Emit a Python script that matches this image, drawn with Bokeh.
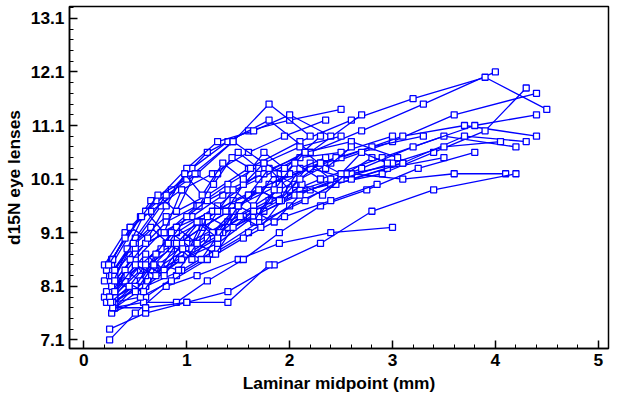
from bokeh.plotting import figure
from bokeh.models import FixedTicker, Range1d
from bokeh.embed import file_html
from bokeh.resources import INLINE

series_x = [
    [0.25, 0.55, 0.9, 1.3, 1.7, 2.2, 2.7, 3.3, 4.0],
    [0.3, 0.6, 1.0, 1.4, 1.9, 2.4, 3.0, 3.6, 4.4],
    [0.2, 0.5, 0.8, 1.2, 1.6, 2.1, 2.6, 3.2, 3.9, 4.5],
    [0.28, 0.6, 1.0, 1.4, 1.9, 2.5, 3.1, 3.7, 4.4],
    [0.25, 0.5, 0.8, 1.1, 1.5, 1.9, 2.4, 3.0],
    [0.3, 0.65, 1.0, 1.4, 1.8, 2.3, 2.9, 3.5, 4.2],
    [0.27, 0.55, 0.85, 1.2, 1.6, 2.0, 2.5],
    [0.2, 0.45, 0.75, 1.05, 1.4, 1.8, 2.2, 2.7],
    [0.3, 0.6, 0.95, 1.3, 1.7, 2.1, 2.6, 3.1, 3.6, 4.1],
    [0.25, 0.5, 0.8, 1.1, 1.45, 1.8, 2.2],
    [0.28, 0.55, 0.85, 1.15, 1.5, 1.9, 2.3, 2.8, 3.3],
    [0.3, 0.6, 0.9, 1.2, 1.55, 1.95, 2.4, 2.9, 3.4, 3.9, 4.3],
    [0.22, 0.45, 0.7, 1.0, 1.3, 1.65, 2.0, 2.4],
    [0.27, 0.6, 0.9, 1.25, 1.6, 2.0, 2.45, 2.95, 3.5],
    [0.3, 0.65, 1.0, 1.35, 1.75, 2.2, 2.7, 3.2, 3.8, 4.4],
    [0.25, 0.5, 0.75, 1.05, 1.35, 1.7, 2.1, 2.5, 3.0],
    [0.2, 0.4, 0.65, 0.95, 1.25, 1.6, 1.95, 2.35],
    [0.28, 0.58, 0.9, 1.2, 1.55, 1.9, 2.3, 2.75, 3.25, 3.8],
    [0.3, 0.55, 0.85, 1.15, 1.45, 1.8, 2.2, 2.6, 3.1],
    [0.25, 0.6, 0.95, 1.3, 1.7, 2.15, 2.6, 3.1, 3.7, 4.3],
    [0.27, 0.5, 0.8, 1.1, 1.4, 1.75, 2.1, 2.5],
    [0.3, 0.62, 0.95, 1.3, 1.65, 2.05, 2.5, 3.0, 3.5, 4.05],
    [0.22, 0.5, 0.8, 1.1, 1.4, 1.75, 2.15, 2.6, 3.05],
    [0.28, 0.55, 0.85, 1.2, 1.55, 1.95, 2.4, 2.85],
    [0.3, 0.6, 0.9, 1.25, 1.6, 2.0, 2.45],
    [0.25, 0.6, 1.0, 1.4, 1.85, 2.3, 2.8, 3.4, 4.2],
    [0.27, 0.65, 1.0, 1.45, 1.9, 2.3],
    [0.28, 0.6, 1.0, 1.4, 1.8],
    [0.3, 0.45, 0.6, 0.8, 1.0, 1.15, 1.3, 1.5, 1.7, 1.9],
    [0.25, 0.4, 0.55, 0.75, 0.9, 1.1, 1.3, 1.45, 1.65, 1.85, 2.05],
    [0.3, 0.5, 0.7, 0.85, 1.05, 1.2, 1.4, 1.6, 1.8, 2.0, 2.2, 2.4],
    [0.27, 0.42, 0.6, 0.78, 0.95, 1.12, 1.3, 1.5, 1.7],
    [0.22, 0.4, 0.58, 0.75, 0.92, 1.1, 1.28, 1.45, 1.65, 1.85, 2.1],
    [0.3, 0.48, 0.65, 0.82, 1.0, 1.2, 1.38, 1.55, 1.75, 1.95, 2.15, 2.35, 2.6],
    [0.28, 0.45, 0.62, 0.8, 0.98, 1.15, 1.35, 1.55, 1.75, 1.95],
    [0.25, 0.42, 0.6, 0.78, 0.95, 1.12, 1.3, 1.5, 1.7, 1.9, 2.1, 2.35],
    [0.3, 0.5, 0.68, 0.88, 1.05, 1.25, 1.45, 1.65, 1.85, 2.05, 2.3],
    [0.26, 0.44, 0.6, 0.78, 0.96, 1.14, 1.32, 1.52, 1.72, 1.92, 2.12, 2.32, 2.55, 2.8],
    [0.3, 0.5, 0.7, 0.9, 1.1, 1.3, 1.5, 1.7, 1.9, 2.1, 2.3, 2.5, 2.7, 2.95],
    [0.24, 0.4, 0.56, 0.72, 0.9, 1.08, 1.26, 1.44, 1.62],
]
series_y = [
    [7.8, 8.5, 9.1, 9.6, 10.2, 10.6, 11.0, 11.5, 12.1],
    [7.7, 8.3, 8.8, 9.3, 9.9, 10.4, 10.8, 11.3, 11.7],
    [8.2, 8.9, 9.4, 9.8, 10.3, 10.8, 11.2, 11.6, 12.0, 11.4],
    [8.0, 8.6, 9.0, 9.5, 10.1, 10.5, 10.9, 11.1, 10.9],
    [7.1, 7.6, 8.1, 8.3, 8.6, 8.9, 9.1, 9.2],
    [7.8, 8.4, 8.9, 9.3, 9.7, 10.1, 10.5, 10.9, 10.7],
    [8.5, 9.4, 9.9, 10.6, 11.0, 11.2, 11.4],
    [7.9, 8.8, 9.6, 10.3, 10.8, 11.2, 10.6, 11.3],
    [7.7, 8.1, 8.6, 9.0, 9.5, 9.9, 10.2, 10.1, 10.2, 10.2],
    [8.3, 9.0, 9.8, 10.2, 10.8, 11.5, 10.9],
    [7.9, 8.4, 8.8, 9.2, 9.6, 10.0, 10.4, 10.7, 10.9],
    [7.8, 8.2, 8.6, 9.0, 9.4, 9.8, 10.0, 10.2, 10.6, 11.0, 11.8],
    [8.4, 9.2, 9.7, 10.3, 10.8, 11.0, 11.3, 10.9],
    [7.6, 7.9, 8.3, 8.7, 9.1, 9.6, 10.0, 10.3, 10.5],
    [7.9, 8.3, 8.7, 9.1, 9.5, 9.9, 10.3, 10.7, 11.1, 11.3],
    [8.0, 8.6, 9.1, 9.4, 9.8, 10.1, 10.5, 10.6, 10.9],
    [8.5, 9.1, 9.5, 9.9, 10.2, 10.6, 10.9, 11.2],
    [7.7, 7.8, 7.8, 8.2, 8.6, 9.1, 9.6, 9.9, 10.3, 10.6],
    [8.1, 8.5, 9.0, 9.3, 9.7, 10.0, 10.3, 10.1, 10.4],
    [7.8, 8.1, 8.4, 8.8, 9.3, 9.7, 10.2, 10.4, 10.9, 10.8],
    [8.3, 8.8, 9.1, 9.6, 10.0, 10.4, 10.7, 10.9],
    [7.9, 8.2, 8.6, 8.9, 9.4, 9.8, 10.1, 10.4, 10.7, 10.8],
    [8.0, 8.7, 9.3, 9.6, 9.9, 10.2, 10.6, 10.8, 10.5],
    [7.8, 7.9, 8.2, 8.6, 9.0, 9.4, 9.7, 10.0],
    [8.2, 8.9, 9.2, 9.5, 9.8, 10.2, 10.5],
    [7.3, 7.6, 7.8, 8.0, 8.5, 8.9, 9.5, 9.9, 10.2],
    [8.6, 9.7, 10.1, 10.8, 10.2, 10.9],
    [7.7, 7.7, 7.8, 7.8, 8.5],
    [8.0, 8.6, 8.3, 8.9, 8.7, 9.3, 9.0, 9.6, 9.4, 10.0],
    [7.9, 8.4, 8.2, 8.8, 9.2, 8.9, 9.5, 9.9, 9.6, 10.2, 10.0],
    [8.3, 8.1, 8.7, 9.1, 8.8, 9.4, 9.2, 9.8, 10.3, 9.9, 10.4, 10.1],
    [8.1, 8.8, 9.5, 9.1, 9.9, 9.6, 10.2, 10.6, 10.3],
    [7.8, 8.2, 8.0, 8.5, 8.4, 8.9, 8.7, 9.2, 9.5, 9.3, 9.8],
    [8.4, 8.9, 9.2, 8.9, 9.4, 9.7, 9.5, 10.0, 10.4, 10.2, 10.6, 10.3, 10.7],
    [8.6, 9.2, 9.0, 9.6, 10.2, 9.8, 10.4, 10.1, 10.6, 10.3],
    [7.9, 8.3, 8.7, 8.4, 8.9, 9.3, 9.1, 9.6, 9.9, 9.7, 10.3, 10.5],
    [8.2, 8.0, 8.5, 8.9, 8.6, 9.1, 9.5, 9.3, 9.9, 10.4, 10.1],
    [7.8, 8.1, 8.5, 8.3, 8.8, 8.6, 9.1, 9.4, 9.2, 9.7, 10.0, 9.8, 10.2, 10.5],
    [8.0, 8.5, 8.3, 8.9, 9.3, 9.0, 9.6, 9.9, 9.7, 10.1, 10.4, 10.2, 10.6, 10.4],
    [8.5, 9.0, 9.4, 9.8, 9.5, 10.2, 10.0, 10.5, 10.3],
]
x_ticks = [0, 1, 2, 3, 4, 5]
y_ticks = [7.1, 8.1, 9.1, 10.1, 11.1, 12.1, 13.1]

p = figure(width=612, height=395, output_backend="svg", toolbar_location=None,
           x_range=Range1d(-0.14, 5.1), y_range=Range1d(6.94, 13.32),
           min_border_left=63, min_border_right=4, min_border_top=6, min_border_bottom=42)
for xs, ys in zip(series_x, series_y):
    p.line(xs, ys, color="#0000ff", line_width=1.3)
    p.scatter(xs, ys, marker="square", size=6, fill_color="white", line_color="#0000ff", line_width=1.3)

p.grid.visible = False
p.outline_line_color = "black"
p.outline_line_width = 1.5
p.xaxis.ticker = FixedTicker(ticks=x_ticks, minor_ticks=[i * 0.2 for i in range(26)])
p.yaxis.ticker = FixedTicker(ticks=y_ticks, minor_ticks=[6.9 + i * 0.2 for i in range(33)])
for ax in (p.xaxis[0], p.yaxis[0]):
    ax.major_tick_in = 8
    ax.major_tick_out = 0
    ax.minor_tick_in = 4
    ax.minor_tick_out = 0
    ax.axis_line_width = 1.5
    ax.major_tick_line_width = 1.5
    ax.major_label_text_font = "Liberation Sans"
    ax.major_label_text_font_style = "bold"
    ax.major_label_text_font_size = "13pt"
    ax.major_label_text_color = "black"
    ax.axis_label_text_font = "Liberation Sans"
    ax.axis_label_text_font_style = "bold"
    ax.axis_label_text_font_size = "13pt"
    ax.axis_label_text_color = "black"
p.xaxis.axis_label = "Laminar midpoint (mm)"
p.yaxis.axis_label = "d15N eye lenses"
p.xaxis.axis_label_standoff = 4
p.yaxis.axis_label_standoff = 4

open("out.html", "w").write(file_html(p, INLINE))
